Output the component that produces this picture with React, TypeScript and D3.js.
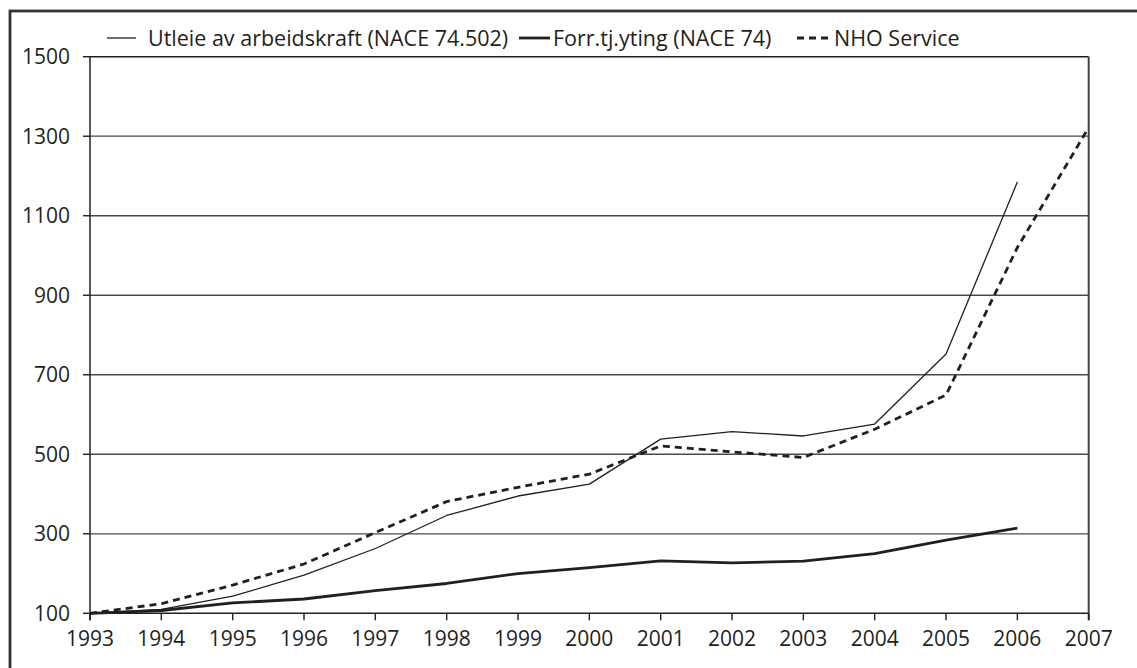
import React from "react";
import * as d3 from "d3";

const years = [1993, 1994, 1995, 1996, 1997, 1998, 1999, 2000, 2001, 2002, 2003, 2004, 2005, 2006, 2007];
const utleie = [100, 110, 143, 196, 263, 346, 395, 425, 538, 557, 546, 576, 752, 1185];
const forr = [100, 107, 126, 136, 157, 175, 200, 215, 232, 227, 231, 250, 284, 314];
const nho = [100, 124, 171, 224, 303, 381, 417, 450, 521, 506, 492, 563, 649, 1020, 1322];
const yTicks = [100, 300, 500, 700, 900, 1100, 1300, 1500];
const legendLabels = ["Utleie av arbeidskraft (NACE 74.502)", "Forr.tj.yting (NACE 74)", "NHO Service"];

const W = 1137, H = 668;
const left = 90, right = 1088.7, top = 56.7, bottom = 613.3;
const FONT = "'Open Sans', 'Noto Sans', sans-serif";
const INK = "#231f20";

export default function App() {
  const x = d3.scaleLinear().domain([1993, 2007]).range([left, right]);
  const y = d3.scaleLinear().domain([100, 1500]).range([bottom, top]);
  const line = d3.line<number>().x((_, i) => x(years[i])).y((d) => y(d));

  const legend = [
    { label: legendLabels[0], x1: 107, x2: 136, tx: 148, w: 1.3, dash: undefined },
    { label: legendLabels[1], x1: 519, x2: 550, tx: 553, w: 2.8, dash: undefined },
    { label: legendLabels[2], x1: 797, x2: 831, tx: 834, w: 2.8, dash: "7,5" },
  ];

  return (
    <svg width={W} height={H} style={{ position: "absolute", left: 0, top: 0, background: "#fff" }}>
      <rect x={0} y={0} width={W} height={H} fill="#fff" />
      <rect x={10} y={11} width={W + 20} height={H + 20} fill="none" stroke="#333" strokeWidth={2.8} />
      {yTicks.slice(1, -1).map((t) => (
        <line key={t} x1={left} x2={right} y1={y(t)} y2={y(t)} stroke="#4a4a4a" strokeWidth={1.3} />
      ))}
      <line x1={left} x2={right} y1={top} y2={top} stroke={INK} strokeWidth={1.4} />
      <line x1={right} x2={right} y1={top} y2={bottom + 7} stroke="#444" strokeWidth={2} />
      <line x1={left} x2={left} y1={top} y2={bottom + 7} stroke={INK} strokeWidth={1.5} />
      <line x1={left} x2={right} y1={bottom} y2={bottom} stroke={INK} strokeWidth={1.5} />
      {yTicks.map((t) => (
        <g key={t}>
          <line x1={left - 7} x2={left} y1={y(t)} y2={y(t)} stroke={INK} strokeWidth={1.4} />
          <text x={70} y={y(t) + 7.5} textAnchor="end" fontFamily={FONT} fontSize={21} fill={INK}>
            {t}
          </text>
        </g>
      ))}
      {years.map((yr) => (
        <g key={yr}>
          <line x1={x(yr)} x2={x(yr)} y1={bottom} y2={bottom + 7} stroke={INK} strokeWidth={1.4} />
          <text x={x(yr)} y={645.5} textAnchor="middle" fontFamily={FONT} fontSize={21} fill={INK}>
            {yr}
          </text>
        </g>
      ))}
      <path d={line(utleie) || ""} fill="none" stroke={INK} strokeWidth={1.3} strokeLinejoin="round" />
      <path d={line(forr) || ""} fill="none" stroke={INK} strokeWidth={2.8} strokeLinejoin="round" />
      <path d={line(nho) || ""} fill="none" stroke={INK} strokeWidth={2.8} strokeDasharray="7,5" />
      {legend.map((l) => (
        <g key={l.label}>
          <line x1={l.x1} x2={l.x2} y1={38} y2={38} stroke={INK} strokeWidth={l.w} strokeDasharray={l.dash} />
          <text x={l.tx} y={46} fontFamily={FONT} fontSize={21.5} fill={INK}>
            {l.label}
          </text>
        </g>
      ))}
    </svg>
  );
}
